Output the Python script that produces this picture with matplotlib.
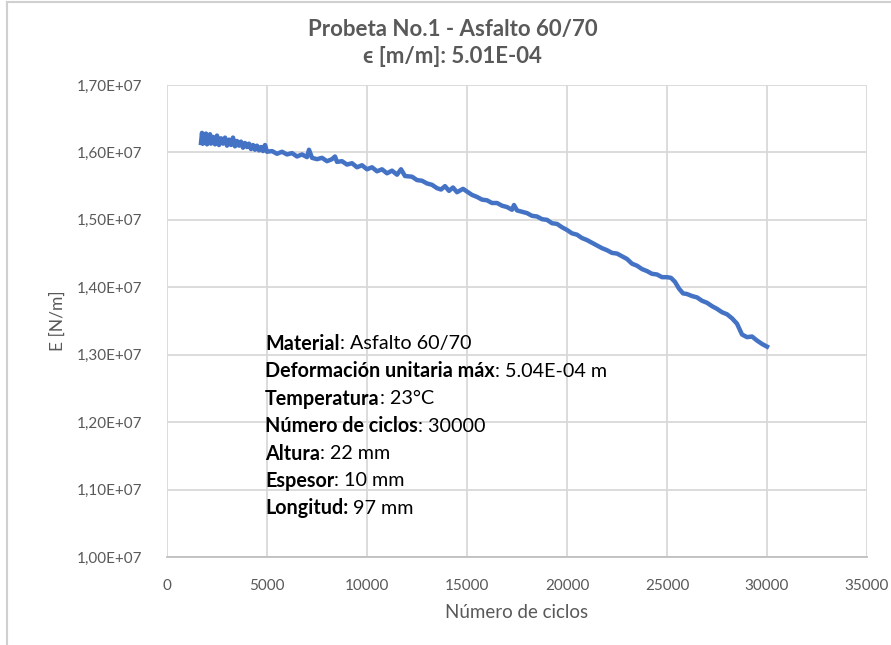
import matplotlib
matplotlib.use("Agg")
import matplotlib.pyplot as plt
from matplotlib.ticker import FuncFormatter, MultipleLocator
from matplotlib.lines import Line2D

# E values are stored in units of 1e7 N/m
ciclos = [1700, 1750, 1800, 1850, 1900, 1950, 2000, 2050, 2100, 2150,
          2200, 2300, 2400, 2500, 2600, 2700, 2800, 2900, 3000, 3100,
          3200, 3300, 3400, 3500, 3600, 3700, 3800, 3900, 4000, 4100,
          4200, 4300, 4400, 4500, 4600, 4700, 4800, 4900, 5000, 5250,
          5500, 5750, 6000, 6250, 6500, 6750, 7000, 7100, 7250, 7500,
          7750, 8000, 8250, 8400, 8500, 8750, 9000, 9250, 9500, 9750,
          10000, 10250, 10500, 10750, 11000, 11250, 11500, 11700, 11900, 12250,
          12500, 12750, 13000, 13250, 13500, 13700, 13900, 14100, 14300, 14500,
          14800, 15000, 15250, 15500, 15750, 16000, 16250, 16500, 16750, 17000,
          17250, 17350, 17500, 17750, 18000, 18250, 18500, 18750, 19000, 19250,
          19500, 19750, 20000, 20250, 20500, 20750, 21000, 21250, 21500, 21750,
          22000, 22250, 22500, 22750, 23000, 23250, 23500, 23750, 24000, 24250,
          24500, 24750, 25000, 25200, 25400, 25600, 25800, 26000, 26250, 26500,
          26750, 27000, 27250, 27500, 27750, 28000, 28250, 28500, 28750, 29000,
          29250, 29500, 29750, 30000]
modulo = [1.614, 1.629, 1.613, 1.626, 1.615, 1.628, 1.612, 1.624, 1.614, 1.627,
          1.613, 1.623, 1.612, 1.625, 1.611, 1.621, 1.613, 1.622, 1.610, 1.619,
          1.611, 1.622, 1.609, 1.617, 1.610, 1.616, 1.607, 1.614, 1.608, 1.613,
          1.605, 1.611, 1.604, 1.610, 1.603, 1.608, 1.602, 1.611, 1.601, 1.602,
          1.598, 1.601, 1.597, 1.599, 1.594, 1.597, 1.593, 1.604, 1.592, 1.590,
          1.592, 1.587, 1.590, 1.594, 1.586, 1.587, 1.582, 1.584, 1.578, 1.581,
          1.575, 1.578, 1.572, 1.575, 1.569, 1.573, 1.567, 1.575, 1.565, 1.564,
          1.559, 1.558, 1.554, 1.552, 1.547, 1.545, 1.550, 1.543, 1.548, 1.541,
          1.546, 1.542, 1.537, 1.534, 1.530, 1.529, 1.525, 1.525, 1.521, 1.519,
          1.515, 1.522, 1.514, 1.512, 1.510, 1.506, 1.505, 1.501, 1.500, 1.495,
          1.494, 1.489, 1.485, 1.480, 1.478, 1.473, 1.470, 1.466, 1.462, 1.458,
          1.455, 1.451, 1.450, 1.446, 1.442, 1.435, 1.432, 1.427, 1.424, 1.420,
          1.419, 1.415, 1.415, 1.414, 1.408, 1.398, 1.391, 1.390, 1.387, 1.385,
          1.380, 1.377, 1.372, 1.368, 1.363, 1.360, 1.354, 1.346, 1.330, 1.326,
          1.327, 1.321, 1.316, 1.312]

titulo = "Probeta No.1 - Asfalto 60/70\n\u03f5 [m/m]: 5.01E-04"
etiquetas = ["Material", "Deformación unitaria máx", "Temperatura",
             "Número de ciclos", "Altura", "Espesor", "Longitud:"]
valores = [": Asfalto 60/70", ": 5.04E-04 m", ": 23°C", ": 30000",
           ": 22 mm", ": 10 mm", " 97 mm"]

gris = "#595959"
plt.rcParams['font.family'] = ['Lato', 'DejaVu Sans']

fig = plt.figure(figsize=(8.91, 6.45), dpi=100)
ax = fig.add_axes([167 / 891, 1 - 557 / 645, 700 / 891, 472 / 645])

ax.plot(ciclos, [v * 1e7 for v in modulo], color="#4472C4", linewidth=3.2,
        solid_joinstyle="round")

ax.set_xlim(0, 35000)
ax.set_ylim(1.0e7, 1.7e7)
ax.xaxis.set_major_locator(MultipleLocator(5000))
ax.yaxis.set_major_locator(MultipleLocator(1e6))
ax.yaxis.set_major_formatter(FuncFormatter(lambda v, p: f"{v:.2E}".replace(".", ",")))
ax.grid(True, color="#D9D9D9", linewidth=1.3)
ax.set_axisbelow(True)
for s in ax.spines.values():
    s.set_visible(False)
ax.spines["bottom"].set_visible(True)
ax.spines["bottom"].set_color("#BFBFBF")
ax.spines["bottom"].set_linewidth(1.3)
ax.tick_params(length=0, colors=gris, labelsize=11)
ax.tick_params(axis="y", pad=18)
ax.tick_params(axis="x", pad=16)

ax.set_xlabel("Número de ciclos", color=gris, fontsize=13.5, labelpad=8)
ax.set_ylabel("E [N/m]", color=gris, fontsize=12.5, labelpad=8)
fig.text(0.508, 1 - 43 / 645, titulo, ha="center", va="center", color=gris,
         fontsize=16, fontweight="bold", linespacing=1.3)

# info block with bold labels
y0 = 344
for i, (et, va) in enumerate(zip(etiquetas, valores)):
    y = 1 - (y0 + i * 27.4) / 645
    t = fig.text(265 / 891, y, et, fontsize=14.2, fontweight="bold",
                 color="black", va="center")
    ax.annotate(va, xy=(1, 0.5), xycoords=t, va="center", ha="left",
                fontsize=14.2, color="black")

# chart area border (left and top edges visible)
fig.add_artist(Line2D([7 / 891, 7 / 891], [0, 1 - 2 / 645],
                      color="#D0D0D0", linewidth=1.5))
fig.add_artist(Line2D([7 / 891, 1], [1 - 2 / 645, 1 - 2 / 645],
                      color="#D0D0D0", linewidth=1.5))

fig.savefig("out.png", dpi=100)
